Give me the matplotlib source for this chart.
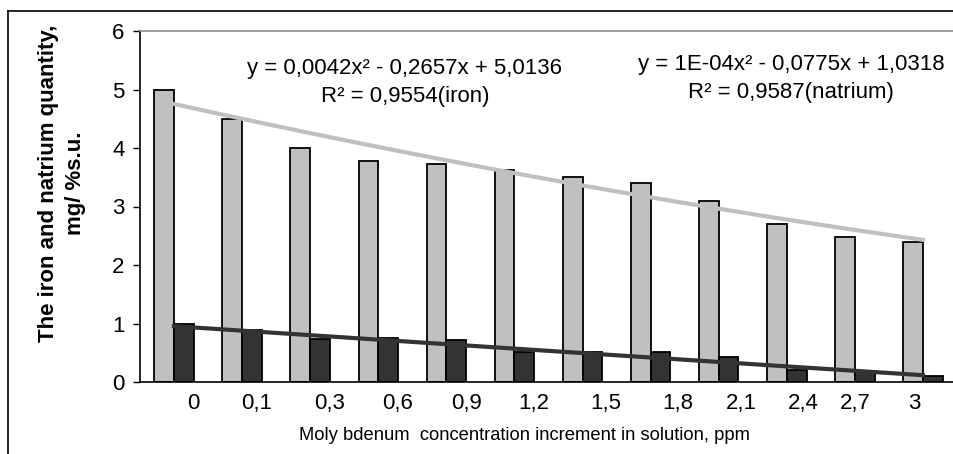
import matplotlib
matplotlib.use("Agg")
import matplotlib.pyplot as plt
from matplotlib.lines import Line2D
import numpy as np

plt.rcParams['font.family'] = ['Liberation Sans', 'DejaVu Sans']

# данные
categories = ["0", "0,1", "0,3", "0,6", "0,9", "1,2", "1,5", "1,8", "2,1", "2,4", "2,7", "3"]
iron = [5.0, 4.5, 4.0, 3.78, 3.73, 3.62, 3.5, 3.4, 3.1, 2.7, 2.48, 2.39]
natrium = [1.0, 0.89, 0.73, 0.75, 0.72, 0.51, 0.51, 0.51, 0.42, 0.2, 0.19, 0.1]
# коэффициенты трендов (как подписано на графике), x = 1..12
iron_trend = [0.0042, -0.2657, 5.0136]
natrium_trend = [1e-4, -0.0775, 1.0318]
# сдвиг подписей оси x относительно центра пары столбиков (в долях категории)
label_shift = [0.28, 0.21, 0.28, 0.28, 0.3, 0.28, 0.34, 0.4, 0.34, 0.24, 0.01, -0.13]

x = np.arange(len(categories))
w = 0.29

fig = plt.figure(figsize=(9.54, 4.54), dpi=100)
ax = fig.add_axes([140 / 954, 1 - 382 / 454, 817 / 954, (382 - 31) / 454])

ax.bar(x - w / 2, iron, width=w, color='#c0c0c0', edgecolor='black', linewidth=1.3, zorder=2)
ax.bar(x + w / 2, natrium, width=w, color='#333333', edgecolor='black', linewidth=1.3, zorder=2)

xs = np.linspace(0, len(categories) - 1, 200)
ax.plot(xs, np.polyval(iron_trend, xs + 1), color='#c0c0c0', lw=3, zorder=3)
ax.plot(xs, np.polyval(natrium_trend, xs + 1), color='#333333', lw=3, zorder=3)

ax.set_xlim(-0.5, len(categories) - 0.5)
ax.set_ylim(0, 6)
ax.set_yticks(range(0, 7))
ax.tick_params(axis='y', direction='out', length=5, width=1, labelsize=16, pad=6)
ax.set_xticks(x + np.array(label_shift))
ax.set_xticklabels(categories)
ax.tick_params(axis='x', length=0, labelsize=16, pad=8)

ax.spines['right'].set_visible(False)
ax.spines['top'].set_color('#8c8c8c')
ax.spines['top'].set_linewidth(1.2)
ax.spines['left'].set_linewidth(1.2)
ax.spines['bottom'].set_linewidth(1.2)

fig.text(525 / 954, 1 - 435 / 454, 'Moly bdenum  concentration increment in solution, ppm',
         fontsize=13.2, ha='center', va='center')
fig.text(62 / 954, 1 - 183 / 454, 'The iron and natrium quantity,\nmg/ %s.u.', fontsize=16,
         fontweight='bold', rotation=90, ha='center', va='center', multialignment='center',
         linespacing=1.35)

ax.text(3.39, 5.12, 'y = 0,0042x² - 0,2657x + 5,0136\nR² = 0,9554(iron)', ha='center', va='center',
        fontsize=16, linespacing=1.4)
ax.text(9.06, 5.19, 'y = 1E-04x² - 0,0775x + 1,0318\nR² = 0,9587(natrium)', ha='center', va='center',
        fontsize=16, linespacing=1.4)

# внешняя рамка
fig.add_artist(Line2D([8 / 954, 8 / 954], [0, 1 - 11 / 454], color='black', lw=1.2))
fig.add_artist(Line2D([8 / 954, 1], [1 - 11 / 454, 1 - 11 / 454], color='black', lw=1.2))

plt.savefig('out.png', dpi=100)
